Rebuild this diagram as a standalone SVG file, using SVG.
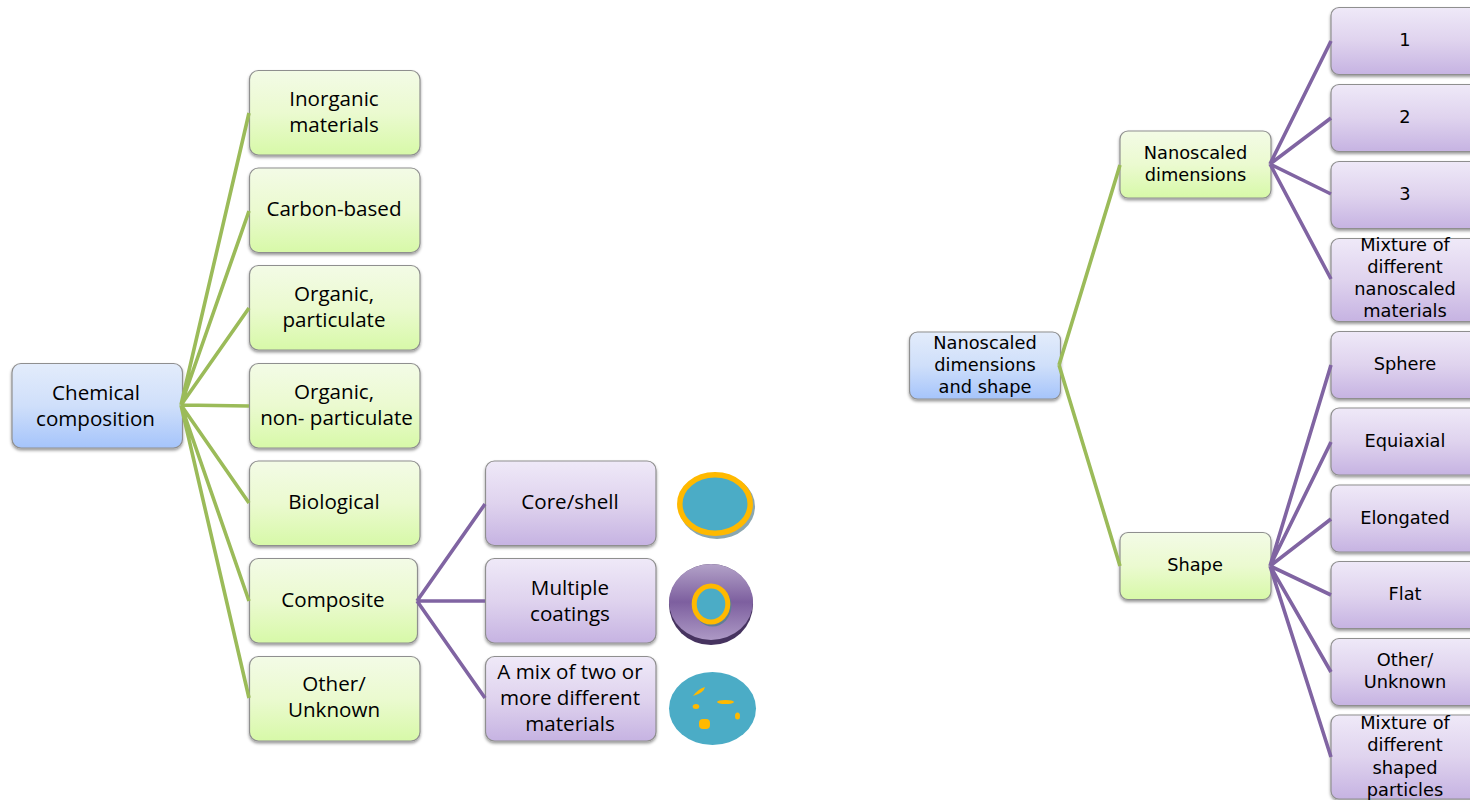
<svg xmlns="http://www.w3.org/2000/svg" width="1470" height="800" viewBox="0 0 1470 800">
<style>
text{font-family:"Open Sans","Liberation Sans",sans-serif;fill:#000;text-anchor:middle}
.l{font-size:20.6px}
.s{font-family:"DejaVu Sans","Open Sans",sans-serif;font-size:17.8px}
.box{stroke:#8f8f8f;stroke-width:1.2}
.b{fill:url(#blue)}.g{fill:url(#green)}.p{fill:url(#purple)}
.cg{stroke:#9bbb59;stroke-width:3.6;fill:none}
.cp{stroke:#8064a2;stroke-width:3.6;fill:none}
</style>
<defs>
<linearGradient id="blue" x1="0" y1="0" x2="0" y2="1"><stop offset="0" stop-color="#e3ecfb"/><stop offset="0.5" stop-color="#cfdffa"/><stop offset="1" stop-color="#a5c4fb"/></linearGradient>
<linearGradient id="green" x1="0" y1="0" x2="0" y2="1"><stop offset="0" stop-color="#f3fbe6"/><stop offset="0.5" stop-color="#ebfad0"/><stop offset="1" stop-color="#d7f9a8"/></linearGradient>
<linearGradient id="purple" x1="0" y1="0" x2="0" y2="1"><stop offset="0" stop-color="#efe9f8"/><stop offset="0.5" stop-color="#dfd3ee"/><stop offset="1" stop-color="#c6b3e2"/></linearGradient>
<linearGradient id="disc" x1="0" y1="0" x2="0" y2="1"><stop offset="0" stop-color="#b3a2c8"/><stop offset="0.5" stop-color="#7d5f9f"/><stop offset="1" stop-color="#ad99c5"/></linearGradient>
<filter id="sh" x="-10%" y="-10%" width="120%" height="125%"><feDropShadow dx="0" dy="2" stdDeviation="1.6" flood-color="#000" flood-opacity="0.4"/></filter>
</defs>

<g id="n-chemical"><rect class="box b" filter="url(#sh)" x="12" y="363.500" width="170.500" height="84.500" rx="9"/><text class="l" x="96" y="399.500">Chemical</text><text class="l" x="95.500" y="425.500">composition</text></g>
<g id="n-inorganic"><rect class="box g" filter="url(#sh)" x="249.500" y="70.500" width="170.500" height="84.500" rx="9"/><text class="l" x="334" y="106">Inorganic</text><text class="l" x="334" y="132">materials</text></g>
<g id="n-carbon"><rect class="box g" filter="url(#sh)" x="249.500" y="168" width="170.500" height="84.500" rx="9"/><text class="l" x="334" y="216">Carbon-based</text></g>
<g id="n-orgpart"><rect class="box g" filter="url(#sh)" x="249.500" y="265.500" width="170.500" height="84.500" rx="9"/><text class="l" x="334" y="301">Organic,</text><text class="l" x="334" y="327">particulate</text></g>
<g id="n-orgnon"><rect class="box g" filter="url(#sh)" x="249.500" y="363.500" width="170.500" height="84.500" rx="9"/><text class="l" x="334" y="399">Organic,</text><text class="l" x="336.500" y="425">non- particulate</text></g>
<g id="n-bio"><rect class="box g" filter="url(#sh)" x="249.500" y="461" width="170.500" height="84.500" rx="9"/><text class="l" x="334" y="509">Biological</text></g>
<g id="n-composite"><rect class="box g" filter="url(#sh)" x="249.500" y="558.500" width="168" height="84.500" rx="9"/><text class="l" x="333" y="607">Composite</text></g>
<g id="n-other1"><rect class="box g" filter="url(#sh)" x="249.500" y="656.500" width="170.500" height="84.500" rx="9"/><text class="l" x="334" y="691">Other/</text><text class="l" x="334" y="717">Unknown</text></g>

<g id="n-core"><rect class="box p" filter="url(#sh)" x="485.500" y="461" width="170.500" height="84.500" rx="9"/><text class="l" x="570" y="509">Core/shell</text></g>
<g id="n-multi"><rect class="box p" filter="url(#sh)" x="485.500" y="558.500" width="170.500" height="84.500" rx="9"/><text class="l" x="570" y="595">Multiple</text><text class="l" x="570" y="621">coatings</text></g>
<g id="n-mix"><rect class="box p" filter="url(#sh)" x="485.500" y="656.500" width="170.500" height="84.500" rx="9"/><text class="l" x="570" y="679">A mix of two or</text><text class="l" x="570" y="705">more different</text><text class="l" x="570" y="731">materials</text></g>

<g id="img-core">
<ellipse cx="717" cy="506.500" rx="38" ry="32.500" fill="#8aa7b0"/>
<ellipse cx="715" cy="504" rx="35.200" ry="29.200" fill="#4bacc6" stroke="#ffb900" stroke-width="5.500"/>
</g>
<g id="img-multi">
<ellipse cx="711" cy="604.500" rx="42" ry="40.500" fill="#46335f"/>
<ellipse cx="711" cy="602" rx="42" ry="38" fill="url(#disc)"/>
<ellipse cx="712.500" cy="606" rx="19" ry="20.500" fill="#5f7f96"/>
<ellipse cx="711" cy="604" rx="16.800" ry="18" fill="#4bacc6" stroke="#ffb900" stroke-width="5"/>
</g>
<g id="img-mix">
<ellipse cx="712.500" cy="708.500" rx="43.500" ry="36.500" fill="#4bacc6"/>
<path d="M693 696Q698 689 705 687Q704 693 693 696Z" fill="#ffb900"/>
<ellipse cx="725.500" cy="702" rx="8.500" ry="2" fill="#ffb900"/>
<ellipse cx="696" cy="706.500" rx="3.300" ry="2.500" fill="#ffb900"/>
<ellipse cx="737.500" cy="716" rx="2.500" ry="3.500" fill="#ffb900"/>
<rect x="699" y="719" width="11" height="10" rx="4" fill="#ffb900"/>
</g>

<g id="n-nano-root"><rect class="box b" filter="url(#sh)" x="909.500" y="332" width="151" height="67" rx="8"/><text class="s" x="985" y="349">Nanoscaled</text><text class="s" x="985" y="371">dimensions</text><text class="s" x="985" y="393">and shape</text></g>
<g id="n-nano-dim"><rect class="box g" filter="url(#sh)" x="1120" y="131" width="151" height="67" rx="8"/><text class="s" x="1195.500" y="159">Nanoscaled</text><text class="s" x="1195.500" y="181">dimensions</text></g>
<g id="n-shape"><rect class="box g" filter="url(#sh)" x="1120" y="532.500" width="151" height="67" rx="8"/><text class="s" x="1195" y="571">Shape</text></g>

<g id="n-1"><rect class="box p" filter="url(#sh)" x="1331" y="7.500" width="151" height="67" rx="8"/><text class="s" x="1405" y="46">1</text></g>
<g id="n-2"><rect class="box p" filter="url(#sh)" x="1331" y="84.500" width="151" height="67" rx="8"/><text class="s" x="1405" y="123">2</text></g>
<g id="n-3"><rect class="box p" filter="url(#sh)" x="1331" y="161.500" width="151" height="67" rx="8"/><text class="s" x="1405" y="200">3</text></g>
<g id="n-mixnano"><rect class="box p" filter="url(#sh)" x="1331" y="238.500" width="151" height="83" rx="8"/><text class="s" x="1405" y="251">Mixture of</text><text class="s" x="1405" y="273">different</text><text class="s" x="1405" y="295">nanoscaled</text><text class="s" x="1405" y="317">materials</text></g>
<g id="n-sphere"><rect class="box p" filter="url(#sh)" x="1331" y="331.500" width="151" height="67" rx="8"/><text class="s" x="1405" y="370">Sphere</text></g>
<g id="n-equi"><rect class="box p" filter="url(#sh)" x="1331" y="408" width="151" height="67" rx="8"/><text class="s" x="1405" y="447">Equiaxial</text></g>
<g id="n-elong"><rect class="box p" filter="url(#sh)" x="1331" y="485" width="151" height="67" rx="8"/><text class="s" x="1405" y="524">Elongated</text></g>
<g id="n-flat"><rect class="box p" filter="url(#sh)" x="1331" y="561.500" width="151" height="67" rx="8"/><text class="s" x="1405" y="600">Flat</text></g>
<g id="n-other2"><rect class="box p" filter="url(#sh)" x="1331" y="638.500" width="151" height="67" rx="8"/><text class="s" x="1405" y="666">Other/</text><text class="s" x="1405" y="688">Unknown</text></g>
<g id="n-mixshape"><rect class="box p" filter="url(#sh)" x="1331" y="715" width="151" height="84" rx="8"/><text class="s" x="1405" y="729">Mixture of</text><text class="s" x="1405" y="751">different</text><text class="s" x="1405" y="774">shaped</text><text class="s" x="1405" y="796">particles</text></g>

<g id="connectors">
<path class="cg" d="M181 405L249 113M181 405L249 211M181 405L249 308M181 405L249 406M181 405L249 503M181 405L249 601M181 405L249 698"/>
<path class="cp" d="M417 601L485 504M417 601L485 601M417 601L485 698"/>
<path class="cg" d="M1059 365L1120 165M1059 365L1120 566"/>
<path class="cp" d="M1270 164L1331 41M1270 164L1331 118M1270 164L1331 194M1270 164L1331 279"/>
<path class="cp" d="M1270 566L1331 365M1270 566L1331 442M1270 566L1331 519M1270 566L1331 595M1270 566L1331 672M1270 566L1331 757"/>
</g>
</svg>
